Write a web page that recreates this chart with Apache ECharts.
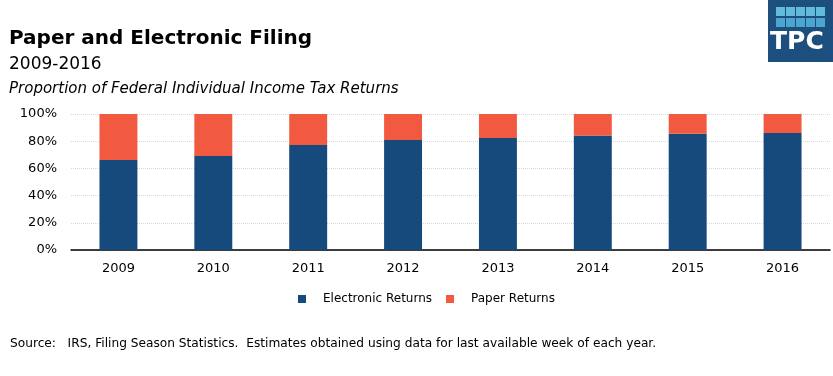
<!DOCTYPE html>
<html>
<head>
<meta charset="utf-8">
<script src="https://cdn.jsdelivr.net/npm/echarts@6/dist/echarts.min.js"></script>
<style>
  html, body { margin: 0; padding: 0; background: #fff; }
  #chart { width: 833px; height: 376px; }
</style>
</head>
<body>
<div id="chart"></div>
<script>
var years = ['2009', '2010', '2011', '2012', '2013', '2014', '2015', '2016']
var electronic = [66.2, 69.1, 77.2, 80.9, 82.4, 84.1, 85.5, 86.0]
var paper = [33.8, 30.9, 22.8, 19.1, 17.6, 15.9, 14.5, 14.0]

var font = '"DejaVu Sans", sans-serif'
var chart = echarts.init(document.getElementById('chart'))

// logo: dark square with 5 x 2 light squares
var logo = [{ type: 'rect', shape: { x: 768, y: 0, width: 65, height: 62 }, style: { fill: '#1d4f7e' } }]
for (var r = 0; r < 2; r++) {
  for (var c = 0; c < 5; c++) {
    logo.push({
      type: 'rect',
      shape: { x: 776 + c * 10, y: 7 + r * 11, width: 9, height: 9 },
      style: { fill: r === 0 ? '#63bbdc' : '#4aa6d0' }
    })
  }
}
logo.push({
  type: 'text', left: 770, top: 30,
  style: { text: 'TPC', fill: '#fff', font: 'bold 25px ' + font }
})

chart.setOption({
  animation: false,
  textStyle: { fontFamily: font },
  title: [
    { text: 'Paper and Electronic Filing', left: 9, top: 29, padding: 0, textStyle: { fontSize: 20, fontWeight: 'bold', color: '#000', fontFamily: font } },
    { text: '2009-2016', left: 9, top: 56, padding: 0, textStyle: { fontSize: 17, fontWeight: 'normal', color: '#000', fontFamily: font } },
    { text: 'Proportion of Federal Individual Income Tax Returns', left: 9, top: 82, padding: 0, textStyle: { fontSize: 15, fontStyle: 'italic', fontWeight: 'normal', color: '#000', fontFamily: font } },
    { text: 'Source:   IRS, Filing Season Statistics.  Estimates obtained using data for last available week of each year.', left: 10, top: 338, padding: 0, textStyle: { fontSize: 12.2, fontWeight: 'normal', color: '#000', fontFamily: font } }
  ],
  graphic: logo,
  legend: {
    data: ['Electronic Returns', 'Paper Returns'],
    left: 293, top: 288,
    itemWidth: 8, itemHeight: 8, itemGap: 14,
    icon: 'rect',
    textStyle: { fontSize: 12, color: '#000', padding: [0, 0, 0, 12] }
  },
  grid: { left: 71, right: 3, top: 114, bottom: 126 },
  xAxis: {
    type: 'category',
    data: years,
    axisLine: { lineStyle: { color: '#000', width: 1.5 } },
    axisTick: { show: false },
    axisLabel: { color: '#000', fontSize: 13, margin: 12 }
  },
  yAxis: {
    type: 'value',
    min: 0, max: 100, interval: 20,
    axisLine: { show: false },
    axisTick: { show: false },
    axisLabel: { color: '#000', fontSize: 13, margin: 14, formatter: '{value}%' },
    splitLine: { lineStyle: { color: '#d9d9d9', type: 'dotted' } }
  },
  series: [
    { name: 'Electronic Returns', type: 'bar', stack: 'a', barWidth: '40%', data: electronic, itemStyle: { color: '#174a7c' } },
    { name: 'Paper Returns', type: 'bar', stack: 'a', data: paper, itemStyle: { color: '#f15a40' } }
  ]
})
</script>
</body>
</html>
